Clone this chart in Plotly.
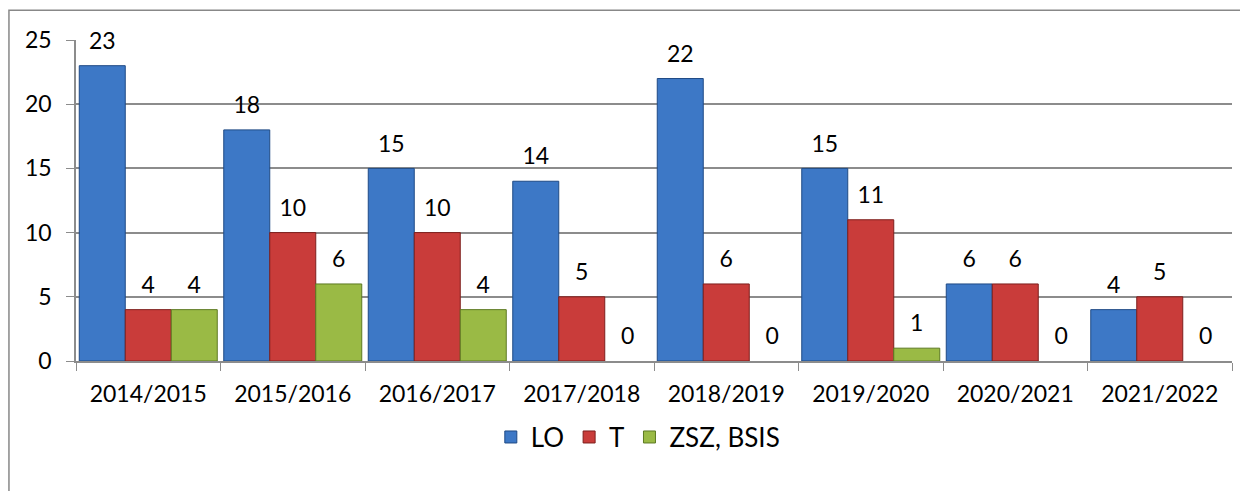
import plotly.graph_objects as go

categories = ["2014/2015", "2015/2016", "2016/2017", "2017/2018",
              "2018/2019", "2019/2020", "2020/2021", "2021/2022"]
lo = [23, 18, 15, 14, 22, 15, 6, 4]
t = [4, 10, 10, 5, 6, 11, 6, 5]
zsz = [4, 6, 4, 0, 0, 1, 0, 0]

series = [
    ("LO", lo, "#3d78c6", "#1f4a85"),
    ("T", t, "#c93c3a", "#7e1f1d"),
    ("ZSZ, BSIS", zsz, "#9aba45", "#5d7a22"),
]

FONT = "Lato"
fig = go.Figure()
for name, vals, col, line in series:
    fig.add_trace(go.Bar(
        name=name, x=categories, y=vals, offsetgroup=name,
        marker=dict(color=col, line=dict(color=line, width=[1 if v else 0 for v in vals])),
        hoverinfo="x+y",
    ))
for name, vals, col, line in series:
    fig.add_trace(go.Scatter(
        name=name, x=categories, y=vals, offsetgroup=name,
        mode="markers+text", text=[str(v) for v in vals], textposition="top center",
        marker=dict(size=16, color="rgba(0,0,0,0)"),
        textfont=dict(size=23, color="#000", family=FONT),
        showlegend=False, hoverinfo="skip", cliponaxis=False,
    ))

fig.update_layout(
    width=1240, height=483,
    margin=dict(l=68, r=16, t=32, b=130, autoexpand=False),
    paper_bgcolor="white", plot_bgcolor="white",
    barmode="group", bargap=0.045, bargroupgap=0,
    scattermode="group", scattergap=0.045,
    font=dict(family=FONT, size=23, color="#000"),
    showlegend=True,
    legend=dict(orientation="h", x=0.486, xanchor="center", y=-0.237, yanchor="middle",
                font=dict(size=26, family=FONT), traceorder="normal"),
)
fig.update_yaxes(range=[0, 25], dtick=5, showgrid=True, gridcolor="#8c8c8c", gridwidth=1.5,
                 showline=True, linecolor="#8c8c8c", linewidth=1.5,
                 ticks="outside", ticklen=8, tickcolor="#8c8c8c",
                 tickfont=dict(size=23, family=FONT), zeroline=False, ticklabelstandoff=10,
                 automargin=False)
fig.update_xaxes(showline=True, linecolor="#8c8c8c", linewidth=1.5,
                 ticks="outside", ticklen=8, tickcolor="#8c8c8c", tickson="boundaries",
                 tickfont=dict(size=23, family=FONT), ticklabelstandoff=12,
                 automargin=False)
fig.add_shape(type="rect", xref="paper", yref="paper",
              x0=-0.058, x1=1.06, y0=-0.6, y1=1.093,
              line=dict(color="#888888", width=1.5), fillcolor="rgba(0,0,0,0)", layer="below")
fig.write_html("out.html")
